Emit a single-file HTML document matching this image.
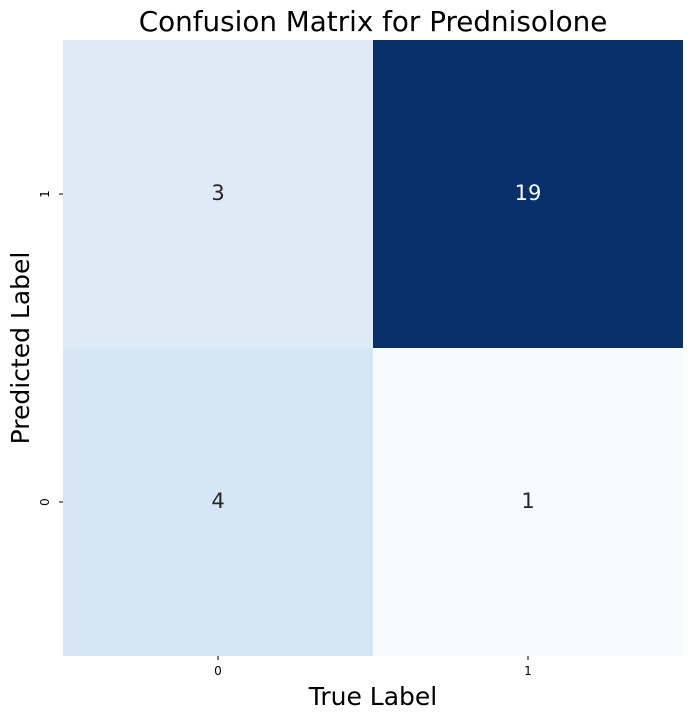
<!DOCTYPE html>
<html><head><meta charset="utf-8"><style>
body{margin:0;background:#fff;}
svg text{font-family:"DejaVu Sans","Liberation Sans",sans-serif;}
</style></head><body>
<svg id="c" width="693" height="719" xmlns="http://www.w3.org/2000/svg">
<text x="373" y="31" font-size="27.8" text-anchor="middle" fill="#000">Confusion Matrix for Prednisolone</text>
<text x="373" y="705" font-size="25" text-anchor="middle">True Label</text>
<text transform="translate(29,348) rotate(-90)" font-size="25" text-anchor="middle">Predicted Label</text>
<g id="cells"></g>
</svg>
<script>
const xCats=["0","1"];
const yCats=["1","0"];
const values=[[3,19],[4,1]];
const colors={1:"#f7fbff",3:"#deebf7",4:"#d6e6f4",19:"#08306b"};
const L=63,T=40,W=620,H=616;
const cw=W/xCats.length, ch=H/yCats.length;
const xS=i=>L+i*cw, yS=j=>T+j*ch;
const ns="http://www.w3.org/2000/svg";
const g=document.getElementById('cells');
const svg=document.getElementById('c');
function col(v){return colors[v]||"#9ecae1";}
values.forEach((row,j)=>row.forEach((v,i)=>{
  const r=document.createElementNS(ns,'rect');
  r.setAttribute('x',xS(i));r.setAttribute('y',yS(j));
  r.setAttribute('width',cw);r.setAttribute('height',ch);
  r.setAttribute('fill',col(v));
  
  
  g.appendChild(r);
  const t=document.createElementNS(ns,'text');
  t.setAttribute('x',xS(i)+cw/2);t.setAttribute('y',yS(j)+ch/2+6);
  t.setAttribute('text-anchor','middle');t.setAttribute('font-size','21');
  t.setAttribute('fill',v>10?'#fff':'#262626');
  t.textContent=v;
  
  
  g.appendChild(t);
}));
xCats.forEach((c,i)=>{
  const x=xS(i)+cw/2;
  const l=document.createElementNS(ns,'line');
  l.setAttribute('x1',x);l.setAttribute('x2',x);l.setAttribute('y1',T+H);l.setAttribute('y2',T+H+4);
  l.setAttribute('stroke','#000');
  
  
  svg.appendChild(l);
  const t=document.createElementNS(ns,'text');
  t.setAttribute('x',x);t.setAttribute('y',T+H+19);t.setAttribute('text-anchor','middle');t.setAttribute('font-size','12');
  t.textContent=c;
  
  
  svg.appendChild(t);
});
yCats.forEach((c,j)=>{
  const y=yS(j)+ch/2;
  const l=document.createElementNS(ns,'line');
  l.setAttribute('x1',L-4);l.setAttribute('x2',L);l.setAttribute('y1',y);l.setAttribute('y2',y);
  l.setAttribute('stroke','#000');
  
  
  svg.appendChild(l);
  const t=document.createElementNS(ns,'text');
  t.setAttribute('transform','translate('+(L-14)+','+y+') rotate(-90)');
  t.setAttribute('text-anchor','middle');t.setAttribute('font-size','12');
  t.textContent=c;
  
  
  svg.appendChild(t);
});
</script>
</body></html>
